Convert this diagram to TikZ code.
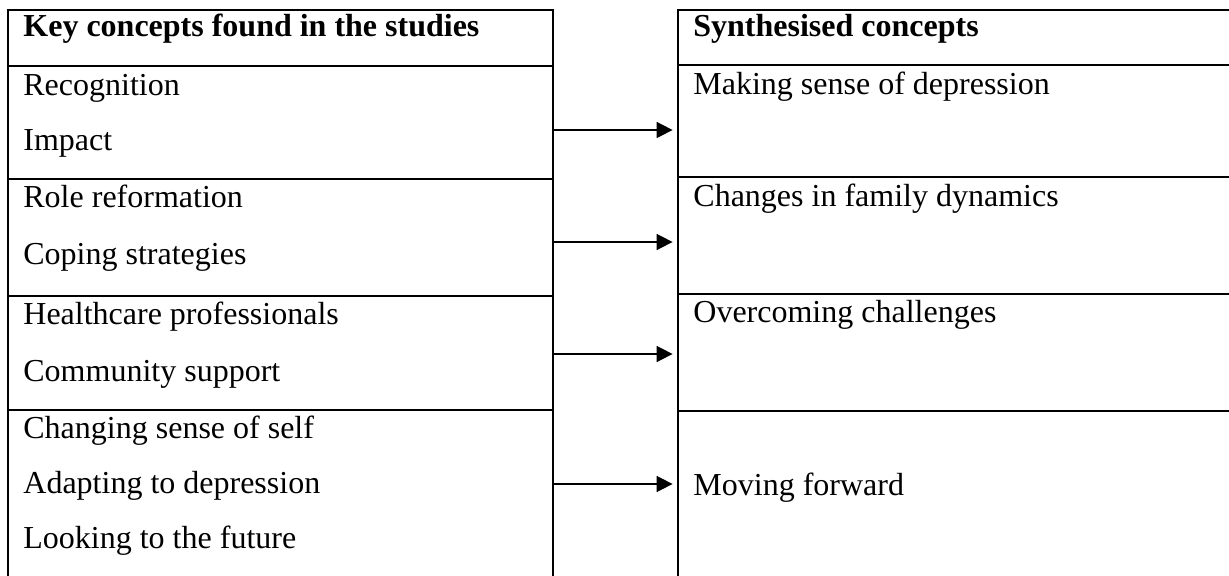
\documentclass[tikz,border=0pt]{standalone}
\usepackage{fontspec}
\setmainfont{Liberation Serif}
\usetikzlibrary{fit,arrows.meta}

\tikzset{
  cell/.style={draw, line width=1.4pt, inner sep=0pt},
  item/.style={anchor=base west, inner sep=0pt, font=\fontsize{16}{19}\selectfont},
  head/.style={item, font=\fontsize{16}{19}\selectfont\bfseries},
  link/.style={-{Triangle[length=8pt,width=8pt]}, line width=0.8pt, shorten >=2pt},
}

\begin{document}
\begin{tikzpicture}[x=0.5pt, y=-0.5pt]
        \clip (0,0) rectangle (1229,576);

        % left table
        \node[cell, fit={(8,10) (553,66)}] (lh) {};
        \node[cell, fit={(8,66) (553,179)}] (l1) {};
        \node[cell, fit={(8,179) (553,296)}] (l2) {};
        \node[cell, fit={(8,296) (553,410)}] (l3) {};
        \node[cell, fit={(8,410) (553,600)}] (l4) {};

        \node[head] (khead) at (23,37) {Key concepts found in the studies};
        \node[item] (krec) at (23,96) {Recognition};
        \node[item] (kimp) at (23,151) {Impact};
        \node[item] (krole) at (23,208) {Role reformation};
        \node[item] (kcop) at (23,265) {Coping strategies};
        \node[item] (kheal) at (23,325) {Healthcare professionals};
        \node[item] (kcomm) at (23,381) {Community support};
        \node[item] (kself) at (23,438) {Changing sense of self};
        \node[item] (kadapt) at (23,493) {Adapting to depression};
        \node[item] (kfut) at (23,548) {Looking to the future};

        % right table
        \node[cell, fit={(678,10) (1250,65)}] (rh) {};
        \node[cell, fit={(678,65) (1250,177)}] (r1) {};
        \node[cell, fit={(678,177) (1250,294)}] (r2) {};
        \node[cell, fit={(678,294) (1250,411)}] (r3) {};
        \node[cell, fit={(678,411) (1250,600)}] (r4) {};

        \node[head] (shead) at (693,37) {Synthesised concepts};
        \node[item] (ssense) at (693,95) {Making sense of depression};
        \node[item] (sfam) at (693,207) {Changes in family dynamics};
        \node[item] (sover) at (693,323) {Overcoming challenges};
        \node[item] (smove) at (693,495) {Moving forward};

        % arrows
        \coordinate (a1) at (0,130);
        \coordinate (a2) at (0,242);
        \coordinate (a3) at (0,354);
        \coordinate (a4) at (0,484);
        \draw[link] (l1.east |- a1) -- (r1.west |- a1);
        \draw[link] (l2.east |- a2) -- (r2.west |- a2);
        \draw[link] (l3.east |- a3) -- (r3.west |- a3);
        \draw[link] (l4.east |- a4) -- (r4.west |- a4);

    \end{tikzpicture}
\end{document}
